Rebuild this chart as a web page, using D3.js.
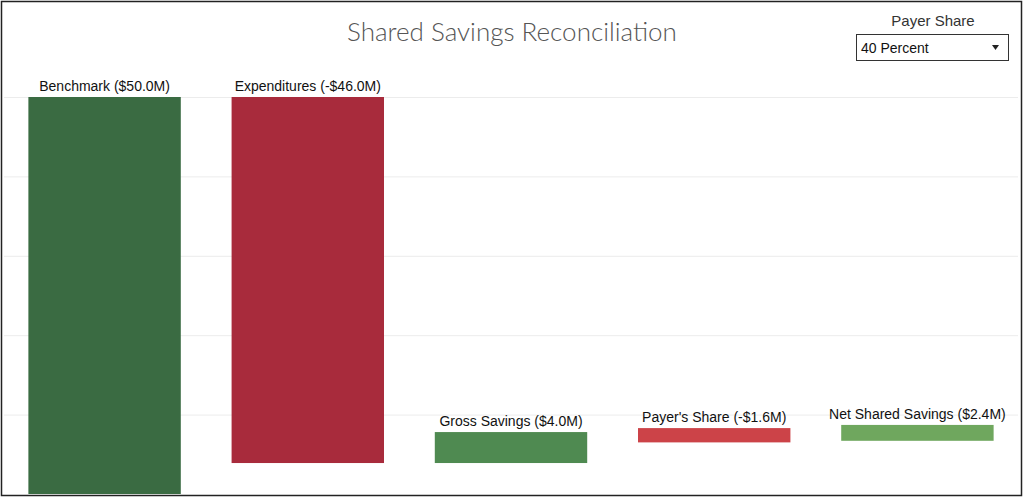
<!DOCTYPE html>
<html><head><meta charset="utf-8">
<script src="https://cdn.jsdelivr.net/npm/d3@7"></script>
<style>
body{margin:0;background:#fff;font-family:Arial,"Liberation Sans",sans-serif}
</style></head><body>
<svg id="chart" width="1024" height="500"></svg>
<script>
'use strict';

// waterfall steps (millions)
var categories = ['Benchmark ($50.0M)', 'Expenditures (-$46.0M)', 'Gross Savings ($4.0M)', "Payer's Share (-$1.6M)", 'Net Shared Savings ($2.4M)'];
var barLow = [0, 3.9, 3.9, 6.5, 6.7];
var barHigh = [50, 50, 7.8, 8.3, 8.7];
var barColors = ['#3a6b42', '#a82b3c', '#4f8a51', '#cc4348', '#6fa75e'];
var gridTicks = [10, 20, 30, 40, 50];

var svg = d3.select('#chart');

svg.append('rect').attr('x', 1.5).attr('y', 1.5).attr('width', 1020).attr('height', 494)
    .attr('fill', 'none').attr('stroke', '#222').attr('stroke-width', 1.5);

var x = d3.scaleBand().domain(categories).range([4, 1018]).paddingInner(0.25).paddingOuter(0.12);
var y = d3.scaleLinear().domain([0, 50]).range([494, 97]);

svg.append('g').selectAll('line').data(gridTicks).enter().append('line')
    .attr('x1', 4).attr('x2', 1018)
    .attr('y1', function(d) { return y(d) + 0.5; })
    .attr('y2', function(d) { return y(d) + 0.5; })
    .attr('stroke', '#ececec');

svg.append('g').selectAll('rect').data(categories).enter().append('rect')
    .attr('x', function(d) { return x(d); })
    .attr('width', x.bandwidth())
    .attr('y', function(d, i) { return y(barHigh[i]); })
    .attr('height', function(d, i) { return y(barLow[i]) - y(barHigh[i]); })
    .attr('fill', function(d, i) { return barColors[i]; });

svg.append('g').selectAll('text').data(categories).enter().append('text')
    .attr('x', function(d) { return x(d) + x.bandwidth() / 2; })
    .attr('y', function(d, i) { return y(barHigh[i]) - 6; })
    .attr('text-anchor', 'middle')
    .attr('font-size', 14).attr('fill', '#111')
    .text(function(d) { return d; });

svg.append('text').attr('x', 512).attr('y', 41).attr('text-anchor', 'middle')
    .attr('font-size', 26).attr('fill', '#555').attr('font-weight', 300)
    .attr('font-family', 'Lato, "Open Sans", sans-serif')
    .text('Shared Savings Reconciliation');

// parameter control
svg.append('text').attr('x', 933).attr('y', 26).attr('text-anchor', 'middle')
    .attr('font-size', 15).attr('fill', '#333').text('Payer Share');
svg.append('rect').attr('x', 856.5).attr('y', 34.5).attr('width', 152).attr('height', 26)
    .attr('fill', '#fff').attr('stroke', '#333');
svg.append('text').attr('x', 861).attr('y', 53).attr('font-size', 14).attr('fill', '#111').text('40 Percent');
svg.append('path').attr('d', 'M992,45 L999,45 L995.5,50 Z').attr('fill', '#222');
</script>
</body></html>
